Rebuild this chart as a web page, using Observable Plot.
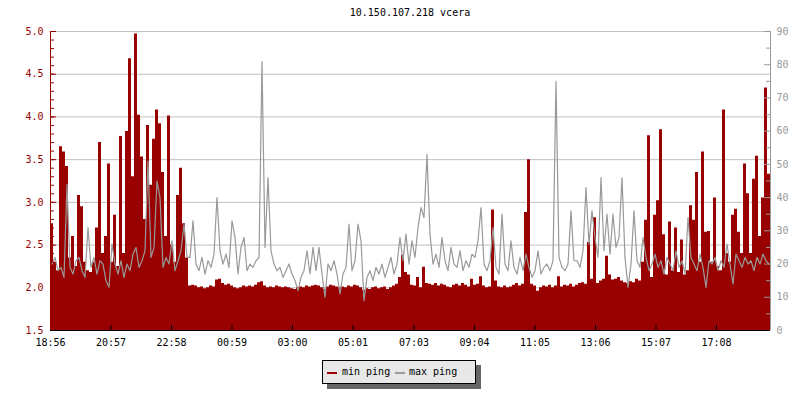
<!DOCTYPE html>
<html><head><meta charset="utf-8">
<script src="https://cdn.jsdelivr.net/npm/d3@7"></script>
<script src="https://cdn.jsdelivr.net/npm/@observablehq/plot@0.6"></script>
<style>
body{margin:0;background:#fff;font-family:"DejaVu Sans Mono",monospace;}
#wrap{position:relative;width:800px;height:400px;overflow:hidden;}
#title{position:absolute;top:7px;left:0;width:820px;text-align:center;font-size:10px;line-height:12px;color:#000;}
#chart{position:absolute;top:24px;left:0;}
#legend{position:absolute;left:322px;top:360px;width:152px;height:22px;background:#e8e8e8;border:1px solid #000;box-shadow:5px 5px 0 #666;font-size:10px;line-height:12px;}
#legend .sw{position:absolute;top:11px;width:10px;height:2px;}
#legend .tx{position:absolute;top:5px;white-space:pre;}
</style></head>
<body><div id="wrap">
<div id="title">10.150.107.218 vcera</div>
<div id="chart"></div>
<div id="legend">
<span class="sw" style="left:4px;background:#990000"></span><span class="tx" style="left:19px">min ping</span>
<span class="sw" style="left:72px;background:#999999"></span><span class="tx" style="left:86px">max ping</span>
</div>
</div>
<script>
const xTickLabels = ["18:56","20:57","22:58","00:59","03:00","05:01","07:03","09:04","11:05","13:06","15:07","17:08"];
const xTickMinutes = [0,121,242,363,484,605,727,848,969,1090,1211,1332];
const binMinutes = 6;
const totalMinutes = 1440;
const leftTicks = [1.5,2.0,2.5,3.0,3.5,4.0,4.5,5.0];
const rightTicks = [0,10,20,30,40,50,60,70,80,90];

const minPing = [
2.75,2.3,2.2,3.65,3.59,3.42,2.35,2.6,2.25,3.08,
2.95,2.3,2.2,2.18,2.3,2.7,3.7,2.4,2.6,3.45,
2.3,2.85,2.25,3.77,2.4,3.83,4.68,3.3,4.97,4.02,
3.53,2.8,3.9,3.2,3.74,4.08,3.92,3.35,2.6,4.01,
2.5,2.3,3.08,3.4,2.75,2.35,2.02,2.03,
2.02,2.0,2.01,1.99,2.0,2.02,2.01,2.09,2.1,2.05,
2.03,2.04,2.02,2.0,1.99,2.0,2.02,2.01,2.02,2.01,
2.03,2.06,2.07,2.02,2.0,2.01,2.0,2.02,2.01,2.0,
2.01,2.0,1.99,1.98,2.0,2.01,2.0,2.02,2.01,2.02,
2.03,2.02,2.0,1.98,2.01,2.03,2.02,2.01,
2.0,2.01,2.0,2.02,2.01,2.03,2.02,2.0,1.97,1.99,
1.98,2.0,2.01,1.99,2.0,2.01,1.98,2.0,2.02,2.04,
2.12,2.38,2.18,2.15,2.03,2.02,2.12,2.0,2.24,2.05,
2.04,2.03,2.05,2.02,2.04,2.03,2.01,2.0,2.03,2.04,
2.02,2.05,2.03,2.01,2.1,2.03,2.04,
2.13,2.02,2.0,2.01,2.91,2.08,2.01,2.0,2.02,2.0,
2.01,2.03,2.05,2.02,2.04,2.88,3.5,2.04,2.02,1.96,
2.0,2.02,2.01,2.03,2.0,2.02,2.13,2.01,2.03,2.02,
2.04,2.01,2.03,2.05,2.06,2.04,2.53,2.1,2.82,2.05,
2.08,2.1,2.37,2.15,2.09,2.1,2.12,
2.08,2.06,2.05,2.07,2.06,2.1,2.08,2.3,2.79,3.78,
2.12,2.85,3.02,3.85,2.62,2.15,2.77,2.2,2.7,2.18,
2.56,2.15,2.2,2.96,2.79,3.35,2.3,3.59,2.65,2.66,
2.3,3.05,2.25,2.2,4.08,2.4,2.3,2.85,2.92,2.65,
2.4,3.45,3.1,2.4,3.27,3.54,2.6,3.05,4.34,3.33
];

const maxPing = [
20,22,18,19,16,44,19,17,21,22,
18,16,31,19,22,17,21,20,15,13,
26,20,17,21,16,20,18,23,25,19,
21,24,51,22,25,45,40,19,22,20,
27,18,21,24,32,22,22,33,
20,18,22,17,21,19,23,40,24,20,
23,19,33,28,17,25,28,18,20,19,
21,22,81,25,46,24,20,18,19,16,
18,20,17,15,12,16,18,24,17,25,
18,25,17,10,20,18,21,17,
11,17,19,32,18,21,32,27,9,16,
18,15,19,17,20,16,19,22,17,20,
28,21,29,20,27,22,31,37,34,53,
29,20,23,19,28,21,18,25,20,19,
24,18,21,19,23,22,27,
37,20,18,21,31,19,17,35,20,18,
27,19,17,22,18,23,19,16,18,24,
17,19,20,18,21,75,22,19,18,20,
36,21,21,19,24,43,26,36,28,22,
46,24,35,23,35,25,28,
46,22,13,20,36,21,19,28,22,18,
20,23,19,21,17,22,20,18,24,19,
21,17,34,22,20,18,23,19,13,21,
20,22,18,21,19,26,20,14,23,21,
19,22,20,21,18,22,20,23,21,20
];

const leftDomain = [1.5, 5.0];
const rightDomain = [0, 90];
const toLeft = r => leftDomain[0] + (r - rightDomain[0]) * (leftDomain[1] - leftDomain[0]) / (rightDomain[1] - rightDomain[0]);
const fromLeft = v => rightDomain[0] + (v - leftDomain[0]) * (rightDomain[1] - rightDomain[0]) / (leftDomain[1] - leftDomain[0]);

const rows = minPing.map((v, i) => ({t: i * binMinutes, min: v, max: maxPing[i]}));
rows.push({t: totalMinutes, min: minPing[minPing.length - 1], max: maxPing[maxPing.length - 1]});
const lineRows = maxPing.map((r, i) => ({t: (i + 0.5) * binMinutes, max: r}));

const leftMinor = d3.range(15, 51).map(d => d / 10);
const rightMinor = d3.range(5, 90, 10);
const gridVals = leftTicks.filter(d => d > leftDomain[0]);

const RED = "#990000", GRAY = "#999999", GRID = "#c0c0c0";
const plotW = 720, plotH = 299;

const chart = Plot.plot({
  width: 800, height: 330,
  marginTop: 7, marginBottom: 24, marginLeft: 50, marginRight: 30,
  style: {fontFamily: "DejaVu Sans Mono, monospace", fontSize: "10px", background: "white", overflow: "visible"},
  x: {type: "linear", domain: [0, totalMinutes], label: null},
  y: {type: "linear", domain: leftDomain, label: null},
  marks: [
    Plot.ruleY(gridVals, {stroke: GRID, strokeWidth: 1}),
    Plot.areaY(rows, {x: "t", y1: leftDomain[0], y2: "min", curve: "step-after", fill: RED}),
    Plot.line(lineRows, {x: "t", y: d => toLeft(d.max), curve: "linear", stroke: GRAY, strokeWidth: 1.2}),
    Plot.tickY(leftMinor, {y: d => d, stroke: RED, insetRight: plotW - 4}),
    Plot.tickY(leftTicks, {y: d => d, stroke: RED, insetRight: plotW - 6}),
    Plot.tickY(rightMinor.map(toLeft), {y: d => d, stroke: GRAY, insetLeft: plotW - 4}),
    Plot.tickY(rightTicks.map(toLeft), {y: d => d, stroke: GRAY, insetLeft: plotW - 6}),
    Plot.tickX(xTickMinutes, {x: d => d, stroke: "#000", insetTop: plotH - 5}),
    Plot.ruleX([0], {stroke: RED}),
    Plot.ruleX([totalMinutes], {stroke: GRAY}),
    Plot.ruleY([leftDomain[0]], {stroke: "#000"}),
    Plot.axisY({ticks: leftTicks, tickSize: 0, tickPadding: 7, tickFormat: d => d.toFixed(1), color: RED, label: null}),
    Plot.axisY({anchor: "right", ticks: rightTicks.map(toLeft), tickSize: 0, tickPadding: 6, tickFormat: d => String(Math.round(fromLeft(d))), color: GRAY, label: null}),
    Plot.axisX({ticks: xTickMinutes, tickSize: 0, tickPadding: 8, tickFormat: d => xTickLabels[xTickMinutes.indexOf(d)], color: "#000", label: null})
  ]
});
document.getElementById("chart").appendChild(chart);
</script>
</body></html>
